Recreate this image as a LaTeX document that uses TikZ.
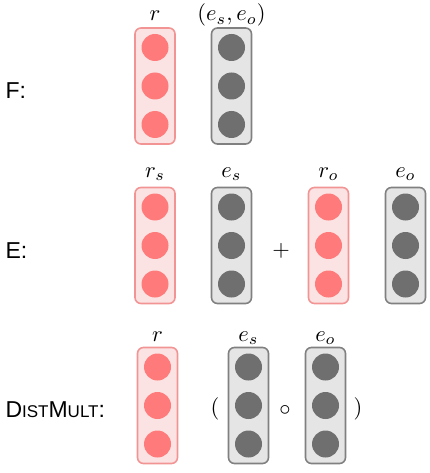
\documentclass[tikz,border=0pt]{standalone}
\usepackage{fontspec}
\newfontfamily\rowfont{Liberation Sans}
\definecolor{edgered}{HTML}{F29494}
\definecolor{fillred}{HTML}{FCE3E3}
\definecolor{dotred}{HTML}{FF7B7B}
\definecolor{edgegrey}{HTML}{808080}
\definecolor{fillgrey}{HTML}{E5E5E5}
\definecolor{dotgrey}{HTML}{6F6F6F}
\newcommand{\vecsym}[1]{\scalebox{2.25}{$#1$}}

\begin{document}
\begin{tikzpicture}[x=1pt, y=-1pt,
    vec/.style={rectangle, rounded corners=6pt, line width=1.6pt, minimum width=40pt, minimum height=116pt, inner sep=0pt},
    redvec/.style={vec, draw=edgered, fill=fillred},
    greyvec/.style={vec, draw=edgegrey, fill=fillgrey},
    reddot/.style={circle, fill=dotred, minimum size=27pt, inner sep=0pt},
    greydot/.style={circle, fill=dotgrey, minimum size=27pt, inner sep=0pt},
    veclabel/.style={anchor=base, inner sep=0pt},
    op/.style={inner sep=0pt},
    rowlabel/.style={anchor=west, font=\rowfont\fontsize{23}{26}\selectfont}]
    \useasboundingbox (0,0) rectangle (429,473);

    % vectors
    \foreach \n/\k/\x/\y in {fr/red/155/86, fe/grey/231.5/86,
                             ers/red/155/245.5, ees/grey/231.5/245.5, ero/red/328.5/245.5, eeo/grey/405.5/245.5,
                             dr/red/157.5/405.5, des/grey/248.5/405.5, deo/grey/325.5/405.5} {
        \node[\k vec] (\n) at (\x,\y) {};
        \foreach \i in {1,2,3}
            \node[\k dot] (\n\i) at (\x,\y+38.5*\i-77) {};
    }

    % labels
    \node[veclabel] (lfr) at (155,21) {\vecsym{r}};
    \node[veclabel] (lfe) at (231.5,21) {\vecsym{(e_s,e_o)}};
    \node[veclabel] (lers) at (155,177) {\vecsym{r_s}};
    \node[veclabel] (lees) at (231.5,177) {\vecsym{e_s}};
    \node[veclabel] (lero) at (328.5,177) {\vecsym{r_o}};
    \node[veclabel] (leeo) at (405.5,177) {\vecsym{e_o}};
    \node[veclabel] (ldr) at (157.5,341) {\vecsym{r}};
    \node[veclabel] (ldes) at (248.5,341) {\vecsym{e_s}};
    \node[veclabel] (ldeo) at (325.5,341) {\vecsym{e_o}};

    % operators
    \node[op] (plus) at (281,251) {\vecsym{+}};
    \node[op] (lpar) at (215,409) {\vecsym{(}};
    \node[op] (circ) at (285,410) {\vecsym{\circ}};
    \node[op] (rpar) at (358,409) {\vecsym{)}};

    % rows
    \node[rowlabel] (rowf) at (2,91) {F:};
    \node[rowlabel] (rowe) at (2,251) {E:};
    \node[rowlabel] (rowd) at (2,410) {D{\fontsize{17}{20}\selectfont IST}M{\fontsize{17}{20}\selectfont ULT}:};
\end{tikzpicture}
\end{document}
